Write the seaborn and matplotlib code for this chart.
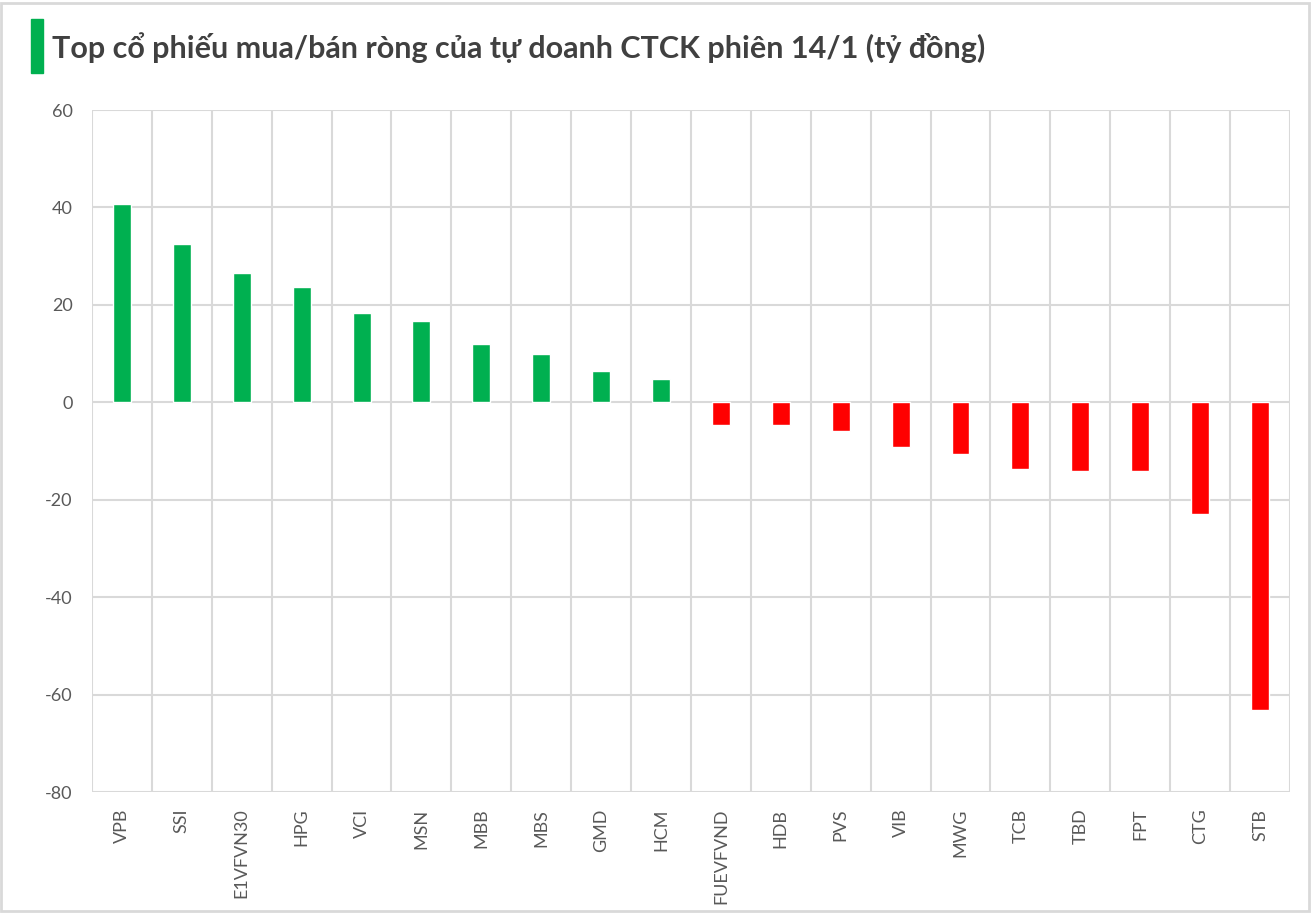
import matplotlib
matplotlib.use("Agg")
import matplotlib.pyplot as plt
import numpy as np
import pandas as pd
import seaborn as sns

tickers = ["VPB", "SSI", "E1VFVN30", "HPG", "VCI", "MSN", "MBB", "MBS", "GMD", "HCM",
           "FUEVFVND", "HDB", "PVS", "VIB", "MWG", "TCB", "TBD", "FPT", "CTG", "STB"]
values = [40.8, 32.5, 26.6, 23.7, 18.4, 16.7, 12.0, 9.9, 6.4, 4.8,
          -4.6, -4.6, -5.9, -9.1, -10.7, -13.6, -14.1, -14.1, -22.9, -63.1]
y_ticks = [60, 40, 20, 0, -20, -40, -60, -80]
title = "Top cổ phiếu mua/bán ròng của tự doanh CTCK phiên 14/1 (tỷ đồng)"

green = "#00b050"
red = "#ff0000"
grid_col = "#d9d9d9"
text_col = "#595959"

sns.set_style("white")
plt.rcParams['font.family'] = ['Lato', 'DejaVu Sans']

df = pd.DataFrame({"ticker": tickers, "value": values})
colors = [green if v >= 0 else red for v in values]

fig = plt.figure(figsize=(13.12, 9.13), dpi=100)
ax = fig.add_axes([0.0701, 0.1325, 0.9131, 0.747])

sns.barplot(data=df, x="ticker", y="value", hue="ticker", palette=colors,
            legend=False, width=0.3, saturation=1, ax=ax, zorder=3)

ax.set_ylim(-80, 60)
ax.set_xlim(-0.5, len(tickers) - 0.5)
ax.set_yticks(y_ticks)
ax.set_yticklabels([str(t) for t in y_ticks], fontsize=13, color=text_col)
ax.set_xticks(range(len(tickers)))
ax.set_xticklabels(tickers, rotation=90, fontsize=13, color=text_col)
ax.set_xticks(np.arange(-0.5, len(tickers)), minor=True)
ax.tick_params(axis="both", which="both", length=0)
ax.tick_params(axis="x", pad=12)
ax.tick_params(axis="y", pad=14)

ax.grid(axis="y", which="major", color=grid_col, linewidth=1.5, zorder=0)
ax.grid(axis="x", which="minor", color=grid_col, linewidth=1.5, zorder=0)
ax.grid(axis="x", which="major", visible=False)
for s in ax.spines.values():
    s.set_visible(False)
ax.set_xlabel("")
ax.set_ylabel("")

# title with green marker bar
fig.patches.append(plt.Rectangle((31 / 1312, 1 - 73 / 913), 12 / 1312, 54 / 913,
                                 transform=fig.transFigure, color=green))
fig.text(52 / 1312, 1 - 48 / 913, title, fontsize=22, fontweight="bold",
         color="#404040", va="center", ha="left")

# light border round the picture
fig.patches.append(plt.Rectangle((0.001, 0.002), 0.997, 0.995, transform=fig.transFigure,
                                 fill=False, edgecolor=grid_col, linewidth=2))

fig.savefig("out.png", dpi=100)
